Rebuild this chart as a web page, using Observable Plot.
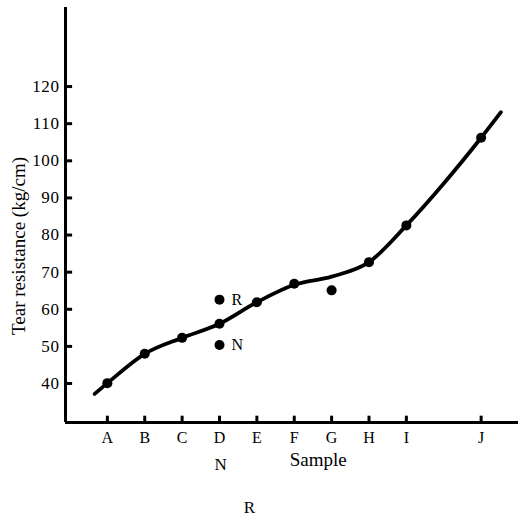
<!DOCTYPE html>
<html>
<head>
<meta charset="utf-8">
<script src="https://cdn.jsdelivr.net/npm/d3@7"></script>
<script src="https://cdn.jsdelivr.net/npm/@observablehq/plot@0.6"></script>
<style>
  html, body { margin: 0; padding: 0; background: #fff; }
  #chart svg { display: block; }
  g[aria-label="ylabel"] text { letter-spacing: 2.2px; }
  g[aria-label="xlabel"] text { letter-spacing: 1px; }
  g[aria-label="y-axis tick label"] text { letter-spacing: 0.6px; }
</style>
</head>
<body>
<div id="chart"></div>
<script>
// Samples (categories) and their positions along the x axis
const samples = ["A", "B", "C", "D", "E", "F", "G", "H", "I", "J"];
const samplePos = [1, 2, 3, 4, 5, 6, 7, 8, 9, 11];
// Measured tear resistance (kg/cm)
const tearValues = [40.1, 48.0, 52.3, 56.1, 61.9, 66.9, 65.1, 72.7, 82.6, 106.2];
// Extra measurements on sample D (labelled R and N)
const extraLabels = ["R", "N"];
const extraPos = [4, 4];
const extraValues = [62.6, 50.4];
// Hand-drawn trend curve
const curveX = [0.66, 1, 2, 3, 4, 5, 6, 7, 8, 9, 10, 11, 11.53];
const curveY = [37.2, 40.1, 48.0, 52.3, 56.1, 61.9, 66.6, 68.8, 72.7, 82.6, 93.9, 106.2, 113.1];
// Axis ticks
const yTicks = [40, 50, 60, 70, 80, 90, 100, 110, 120];
const yLabel = "Tear resistance (kg/cm)";
const xLabel = "Sample";

const points = samples.map((s, i) => ({sample: s, x: samplePos[i], y: tearValues[i]}));
const extras = extraLabels.map((l, i) => ({label: l, x: extraPos[i], y: extraValues[i]}));
const curve = curveX.map((x, i) => ({x, y: curveY[i]}));
const xTicks = samples.map((s, i) => ({label: s, x: samplePos[i]}));

const X0 = -0.12, X1 = 12, Y0 = 29.5, Y1 = 141.3;
const font = "'Liberation Serif', 'DejaVu Serif', serif";

const chart = Plot.plot({
  width: 520,
  height: 528,
  marginLeft: 65,
  marginRight: 2,
  marginTop: 7,
  marginBottom: 106,
  style: {fontFamily: font, fontSize: "16px", color: "#000", background: "#fff"},
  x: {domain: [X0, X1]},
  y: {domain: [Y0, Y1]},
  marks: [
    // axis lines
    Plot.ruleX([X0], {stroke: "#000", strokeWidth: 3}),
    Plot.ruleY([Y0], {stroke: "#000", strokeWidth: 3}),
    // y ticks pointing inward (right)
    Plot.ruleY(yTicks, {y: d => d, x1: X0, x2: X0 + 0.19, stroke: "#000", strokeWidth: 3}),
    // x ticks pointing upward
    Plot.ruleX(xTicks, {x: "x", y1: Y0, y2: Y0 + 1.7, stroke: "#000", strokeWidth: 3}),
    Plot.axisY({ticks: yTicks, tickSize: 0, tickPadding: 6, label: null, fontSize: 17}),
    Plot.axisX({ticks: samplePos, tickFormat: (d) => samples[samplePos.indexOf(d)], tickSize: 0, tickPadding: 9, label: null, fontSize: 16}),
    // trend curve
    Plot.line(curve, {x: "x", y: "y", curve: "monotone-x", stroke: "#000", strokeWidth: 3.8, strokeLinecap: "round"}),
    // data points
    Plot.dot(points, {x: "x", y: "y", r: 5, fill: "#000"}),
    Plot.dot(extras, {x: "x", y: "y", r: 5, fill: "#000"}),
    Plot.text(extras, {x: "x", y: "y", text: "label", dx: 12, textAnchor: "start", fontSize: 16, fill: "#000"}),
    // axis titles
    Plot.text([yLabel], {frameAnchor: "left", textAnchor: "middle", rotate: -90, dx: -47, dy: 31, fontSize: 19, fill: "#000", ariaLabel: "ylabel"}),
    Plot.text([xLabel], {x: [6.64], frameAnchor: "bottom", dy: 43, fontSize: 19, fill: "#000", ariaLabel: "xlabel"}),
    // stray letters printed below the axis in the original figure
    Plot.text(["N"], {x: [4.03], frameAnchor: "bottom", dy: 47, fontSize: 17, fill: "#000"}),
    Plot.text(["R"], {x: [4.8], frameAnchor: "bottom", dy: 90, fontSize: 17, fill: "#000"})
  ]
});
document.getElementById("chart").appendChild(chart);
</script>
</body>
</html>
